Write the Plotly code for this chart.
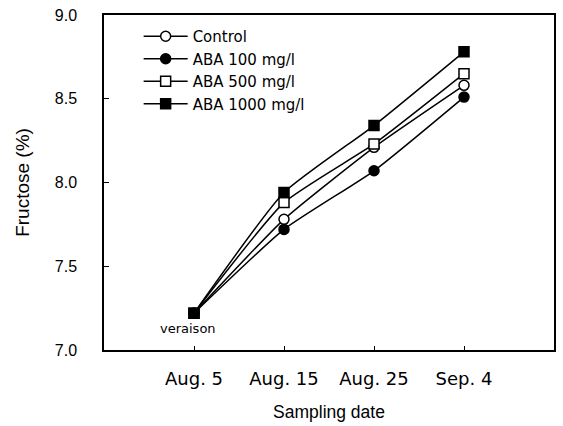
import plotly.graph_objects as go

dates = ["Aug. 5", "Aug. 15", "Aug. 25", "Sep. 4"]
control = [7.22, 7.78, 8.21, 8.58]
aba100 = [7.22, 7.72, 8.07, 8.51]
aba500 = [7.22, 7.88, 8.23, 8.65]
aba1000 = [7.22, 7.94, 8.34, 8.78]
y_ticks = [7.0, 7.5, 8.0, 8.5, 9.0]

ARIAL = "Liberation Sans, Arial, sans-serif"
DEJAVU = "DejaVu Sans, sans-serif"

series = [
    ("Control", control, "circle", "white"),
    ("ABA 100 mg/l", aba100, "circle", "black"),
    ("ABA 500 mg/l", aba500, "square", "white"),
    ("ABA 1000 mg/l", aba1000, "square", "black"),
]

fig = go.Figure()
for name, vals, sym, fill in series:
    fig.add_trace(go.Scatter(
        x=dates, y=vals, name=name, mode="lines+markers",
        line=dict(color="black", width=1.5, shape="spline", smoothing=0.5),
        marker=dict(symbol=sym, size=10, color=fill,
                    line=dict(color="black", width=1.5)),
    ))

fig.add_annotation(x=dates[0], y=aba1000[0], text="veraison", showarrow=False,
                   xshift=-6, yanchor="top", yshift=-6,
                   font=dict(size=13, family=DEJAVU, color="black"))

fig.update_layout(
    width=563, height=426,
    margin=dict(l=104, r=7, t=13, b=74),
    paper_bgcolor="white", plot_bgcolor="white",
    font=dict(family=ARIAL, color="black"),
    showlegend=True,
    legend=dict(x=0.077, y=0.985, xanchor="left", yanchor="top",
                bgcolor="rgba(0,0,0,0)", font=dict(size=15, family=DEJAVU),
                itemwidth=44, tracegroupgap=0),
    xaxis=dict(
        type="category", range=[-1, 4], tickvals=dates,
        showline=True, linecolor="black", linewidth=1.5, mirror=True,
        ticks="inside", ticklen=4, tickcolor="black", showgrid=False, zeroline=False,
        tickfont=dict(size=18, family=DEJAVU), ticklabelstandoff=12,
        title=dict(text="Sampling date", font=dict(size=17.5, family=ARIAL), standoff=17),
    ),
    yaxis=dict(
        range=[7, 9], tickvals=y_ticks, tickformat=".1f",
        showline=True, linecolor="black", linewidth=1.5, mirror=True,
        ticks="inside", ticklen=5, tickcolor="black", showgrid=False, zeroline=False,
        tickfont=dict(size=16, family=ARIAL), ticklabelstandoff=22,
        ticklabeloverflow="allow",
        title=dict(text="Fructose (%)", font=dict(size=19, family=ARIAL), standoff=20),
    ),
)

fig.write_html("out.html", config={"displayModeBar": False},
               post_script="document.body.style.margin='0';")
